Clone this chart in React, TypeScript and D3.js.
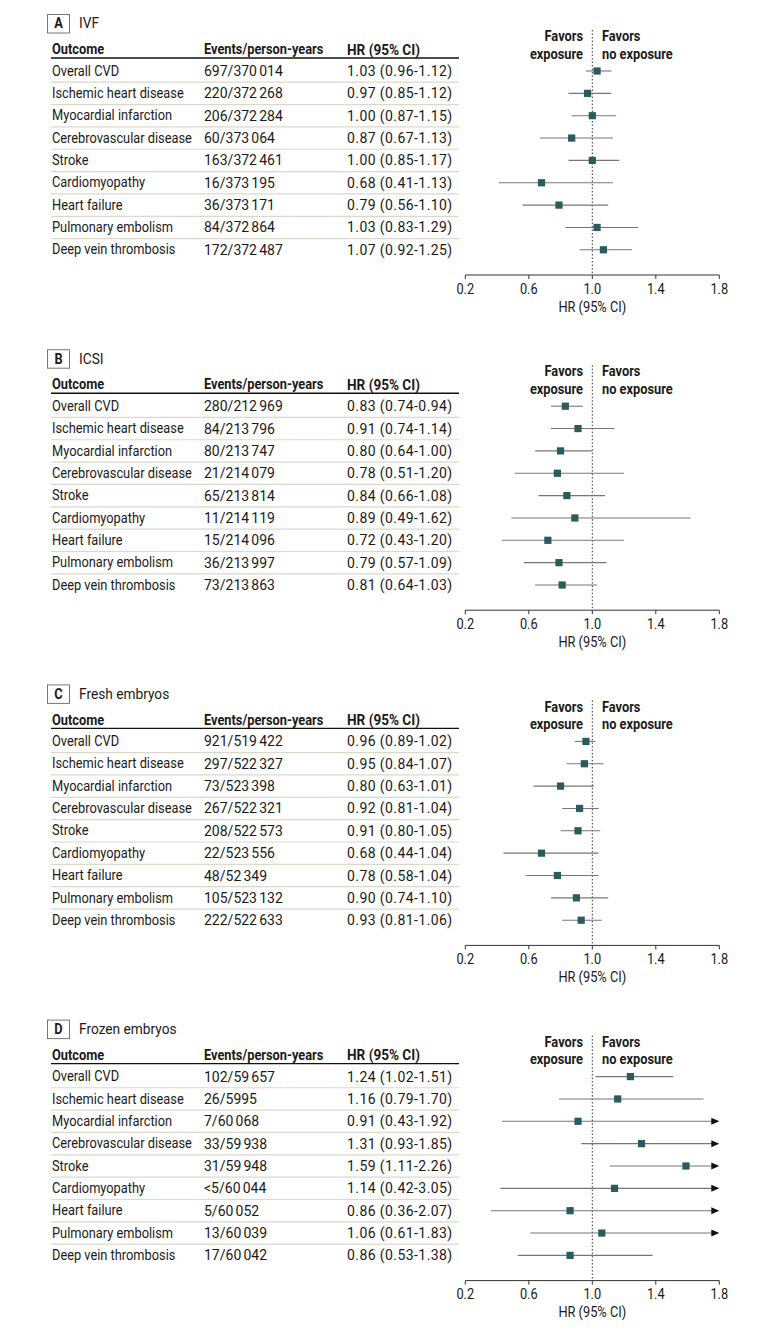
import React from "react";
import * as d3 from "d3";

const outcomes = [
  "Overall CVD",
  "Ischemic heart disease",
  "Myocardial infarction",
  "Cerebrovascular disease",
  "Stroke",
  "Cardiomyopathy",
  "Heart failure",
  "Pulmonary embolism",
  "Deep vein thrombosis",
];

const panelLetters = ["A", "B", "C", "D"];
const panelTitles = ["IVF", "ICSI", "Fresh embryos", "Frozen embryos"];

const ivfEvents = ["697/370014", "220/372268", "206/372284", "60/373064", "163/372461", "16/373195", "36/373171", "84/372864", "172/372487"];
const ivfHR = [1.03, 0.97, 1.0, 0.87, 1.0, 0.68, 0.79, 1.03, 1.07];
const ivfLow = [0.96, 0.85, 0.87, 0.67, 0.85, 0.41, 0.56, 0.83, 0.92];
const ivfHigh = [1.12, 1.12, 1.15, 1.13, 1.17, 1.13, 1.1, 1.29, 1.25];

const icsiEvents = ["280/212969", "84/213796", "80/213747", "21/214079", "65/213814", "11/214119", "15/214096", "36/213997", "73/213863"];
const icsiHR = [0.83, 0.91, 0.8, 0.78, 0.84, 0.89, 0.72, 0.79, 0.81];
const icsiLow = [0.74, 0.74, 0.64, 0.51, 0.66, 0.49, 0.43, 0.57, 0.64];
const icsiHigh = [0.94, 1.14, 1.0, 1.2, 1.08, 1.62, 1.2, 1.09, 1.03];

const freshEvents = ["921/519422", "297/522327", "73/523398", "267/522321", "208/522573", "22/523556", "48/52349", "105/523132", "222/522633"];
const freshHR = [0.96, 0.95, 0.8, 0.92, 0.91, 0.68, 0.78, 0.9, 0.93];
const freshLow = [0.89, 0.84, 0.63, 0.81, 0.8, 0.44, 0.58, 0.74, 0.81];
const freshHigh = [1.02, 1.07, 1.01, 1.04, 1.05, 1.04, 1.04, 1.1, 1.06];

const frozenEvents = ["102/59657", "26/5995", "7/60068", "33/59938", "31/59948", "<5/60044", "5/60052", "13/60039", "17/60042"];
const frozenHR = [1.24, 1.16, 0.91, 1.31, 1.59, 1.14, 0.86, 1.06, 0.86];
const frozenLow = [1.02, 0.79, 0.43, 0.93, 1.11, 0.42, 0.36, 0.61, 0.53];
const frozenHigh = [1.51, 1.7, 1.92, 1.85, 2.26, 3.05, 2.07, 1.83, 1.38];

const tickValues = [0.2, 0.6, 1.0, 1.4, 1.8];
const axisDomain = [0.2, 1.8];

const panels = [
  { events: ivfEvents, hr: ivfHR, low: ivfLow, high: ivfHigh },
  { events: icsiEvents, hr: icsiHR, low: icsiLow, high: icsiHigh },
  { events: freshEvents, hr: freshHR, low: freshLow, high: freshHigh },
  { events: frozenEvents, hr: frozenHR, low: frozenLow, high: frozenHigh },
];

const FONT = "Roboto, 'Liberation Sans', Arial, sans-serif";
const PANEL_STEP = 335.2;
const MARKER = "#2b5b5a";
const FS = 14;
const SQ = 0.915; // horizontal condensing for words

function T({
  x,
  y,
  anchor = "start",
  bold = false,
  size = FS,
  sx = SQ,
  ls = 0,
  children,
}: {
  x: number;
  y: number;
  anchor?: "start" | "middle" | "end";
  bold?: boolean;
  size?: number;
  sx?: number;
  ls?: number;
  children: React.ReactNode;
}) {
  return (
    <text
      transform={`translate(${x},${y}) scale(${sx},1)`}
      textAnchor={anchor}
      dominantBaseline="central"
      fontWeight={bold ? 700 : 400}
      fontSize={size}
      letterSpacing={ls}
    >
      {children}
    </text>
  );
}

function Events({ s }: { s: string }) {
  const [a, b] = s.split("/");
  if (b.length > 4) {
    return (
      <>
        {a + "/" + b.slice(0, b.length - 3)}
        <tspan dx={2.2}>{b.slice(-3)}</tspan>
      </>
    );
  }
  return <>{s}</>;
}

const f2 = d3.format(".2f");

function Panel({ idx }: { idx: number }) {
  const p = panels[idx];
  const x = d3.scaleLinear().domain(axisDomain).range([465.3, 719.3]);
  const y = d3.scalePoint().domain(outcomes).range([71, 71 + 8 * 22.35]);
  const axisY = 275;
  const xMax = axisDomain[1];
  const step = y.step();
  return (
    <g transform={`translate(0,${idx * PANEL_STEP})`}>
      {/* Label box */}
      <rect x={47.5} y={14.5} width={22} height={18.5} fill="none" stroke="#777" strokeWidth={1} />
      <T x={58.5} y={23.8} anchor="middle" bold>{panelLetters[idx]}</T>
      <T x={79} y={23.8} size={15}>{panelTitles[idx]}</T>

      {/* Header */}
      <T x={52} y={49.5} bold>Outcome</T>
      <T x={204} y={49.5} bold>Events/person-years</T>
      <T x={347} y={49.5} bold sx={0.97}>HR (95% CI)</T>
      <line x1={51} x2={459} y1={58} y2={58} stroke="#111" strokeWidth={1.4} />

      {/* Favors */}
      <T x={583} y={36.5} anchor="end" bold>Favors</T>
      <T x={583} y={54} anchor="end" bold>exposure</T>
      <T x={602} y={36.5} bold>Favors</T>
      <T x={602} y={54} bold>no exposure</T>

      {/* Rows */}
      {outcomes.map((o, i) => {
        const cy = y(o) as number;
        return (
          <g key={o}>
            {i < outcomes.length - 1 && (
              <line x1={51} x2={459} y1={cy + step / 2} y2={cy + step / 2} stroke="#dcd8cc" strokeWidth={1.2} />
            )}
            <T x={52} y={cy}>{o}</T>
            <T x={204} y={cy} sx={1}><Events s={p.events[i]} /></T>
            <T x={347} y={cy} sx={1} ls={0.42}>{`${f2(p.hr[i])} (${f2(p.low[i])}-${f2(p.high[i])})`}</T>
          </g>
        );
      })}

      {/* Reference line */}
      <line x1={x(1)} x2={x(1)} y1={30} y2={axisY} stroke="#333" strokeWidth={1} strokeDasharray="1.5,2" />

      {/* CI + markers */}
      {outcomes.map((o, i) => {
        const cy = y(o) as number;
        const over = p.high[i] > xMax;
        const x1 = x(p.low[i]);
        const x2 = over ? x(xMax) - 6 : x(p.high[i]);
        return (
          <g key={o}>
            <line x1={x1} x2={x2} y1={cy} y2={cy} stroke="#777" strokeWidth={1.1} />
            {over && (
              <path
                d={`M${x(xMax) - 8},${cy - 3.5} L${x(xMax)},${cy} L${x(xMax) - 8},${cy + 3.5} Z`}
                fill="#111"
              />
            )}
            <rect x={x(p.hr[i]) - 3.6} y={cy - 3.6} width={7.2} height={7.2} fill={MARKER} />
          </g>
        );
      })}

      {/* Axis */}
      <line x1={x(axisDomain[0])} x2={x(axisDomain[1])} y1={axisY} y2={axisY} stroke="#333" strokeWidth={1} />
      {tickValues.map((t) => (
        <g key={t}>
          <line x1={x(t)} x2={x(t)} y1={axisY} y2={axisY + 4} stroke="#333" strokeWidth={1} />
          <T x={x(t)} y={axisY + 14} anchor="middle">{d3.format(".1f")(t)}</T>
        </g>
      ))}
      <T x={x(1)} y={307} anchor="middle">HR (95% CI)</T>
    </g>
  );
}

export default function App() {
  return (
    <svg
      width={780}
      height={1331}
      style={{ position: "absolute", left: 0, top: 0, background: "#fff" }}
      fontFamily={FONT}
      fill="#1a1a1a"
    >
      {panels.map((_, i) => (
        <Panel key={i} idx={i} />
      ))}
    </svg>
  );
}
